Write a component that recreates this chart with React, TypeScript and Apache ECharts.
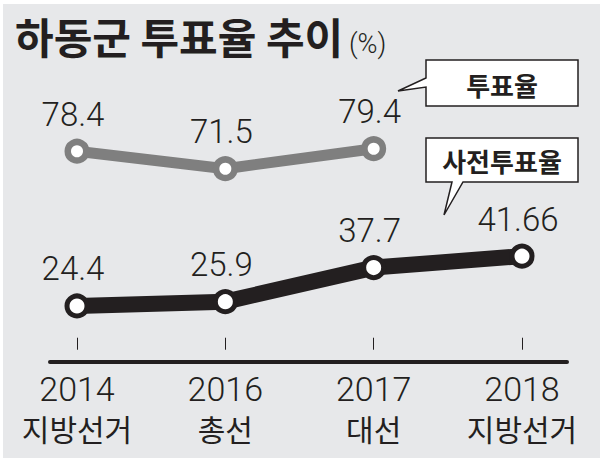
import React, { useEffect, useRef } from "react";
import * as echarts from "echarts";

// ---- data ----
const years = ["2014", "2016", "2017", "2018"];
const electionTypes = ["지방선거", "총선", "대선", "지방선거"];
const turnout: (number | null)[] = [78.4, 71.5, 79.4, null]; // 투표율
const earlyTurnout: number[] = [24.4, 25.9, 37.7, 41.66]; // 사전투표율
const titleText = "하동군 투표율 추이";
const unitText = "(%)";
const legendTurnout = "투표율";
const legendEarly = "사전투표율";

const DARK = "#231f20";
const GRAY = "#7f7f7f";
const BG = "#e7e8ea";

export default function App() {
  const ref = useRef<HTMLDivElement>(null);

  useEffect(() => {
    if (!ref.current) return;
    const chart = echarts.init(ref.current, undefined, { renderer: "svg" });

    const numLabel = {
      show: true,
      position: "top",
      distance: 8,
      offset: [-4, 0],
      fontFamily: "Roboto",
      fontWeight: 300,
      fontSize: 33,
      color: DARK,
    };

    chart.setOption({
      animation: false,
      backgroundColor: "#ffffff",
      title: {
        text: titleText,
        left: 15,
        top: 14,
        padding: 0,
        textStyle: {
          fontFamily: "Noto Sans CJK KR",
          fontWeight: "bold",
          fontSize: 42,
          color: DARK,
        },
      },
      grid: [
        { left: 77, right: 78, top: 100, bottom: 101 },
        { left: 50, right: 33, top: 100, bottom: 101 },
      ],
      xAxis: [
        {
          gridIndex: 0,
          type: "category",
          data: years,
          boundaryGap: false,
          axisLine: { show: false },
          axisTick: {
            show: true,
            inside: true,
            length: 12,
            lineStyle: { color: DARK, width: 1 },
          },
          axisLabel: {
            margin: 8,
            formatter: (v: string, i: number) => `{y|${v}}\n{k|${electionTypes[i]}}`,
            rich: {
              y: {
                fontFamily: "Roboto",
                fontWeight: 300,
                fontSize: 34,
                lineHeight: 38,
                color: DARK,
              },
              k: {
                fontFamily: "Noto Sans CJK KR",
                fontSize: 30,
                lineHeight: 40,
                color: DARK,
              },
            },
          },
          splitLine: { show: false },
        },
        {
          gridIndex: 1,
          type: "value",
          min: 0,
          max: 1,
          axisLine: { show: true, onZero: false, lineStyle: { color: DARK, width: 4 } },
          axisTick: { show: false },
          axisLabel: { show: false },
          splitLine: { show: false },
        },
      ],
      yAxis: [
        { gridIndex: 0, type: "value", min: -4.85, max: 98.63, show: false },
        { gridIndex: 0, type: "value", min: 5, max: 95.75, show: false },
        { gridIndex: 1, type: "value", show: false },
      ],
      graphic: [
        {
          type: "rect",
          z: -10,
          shape: { x: 3, y: 4, width: 597, height: 454 },
          style: { fill: BG },
          silent: true,
        },
        {
          type: "text",
          x: 349,
          y: 44,
          style: {
            text: unitText,
            fill: DARK,
            fontFamily: "Roboto",
            fontWeight: 300,
            fontSize: 27,
            textAlign: "left",
            textVerticalAlign: "middle",
            align: "left",
            verticalAlign: "middle",
          },
        },
        {
          type: "polygon",
          shape: {
            points: [
              [426, 60],
              [578, 60],
              [578, 106],
              [426, 106],
              [426, 87],
              [398, 91],
              [426, 78],
            ],
          },
          style: { fill: "#ffffff", stroke: DARK, lineWidth: 1.5 },
        },
        {
          type: "text",
          x: 502,
          y: 84,
          style: {
            text: legendTurnout,
            fill: DARK,
            fontFamily: "Noto Sans CJK KR",
            fontWeight: "bold",
            fontSize: 26,
            textAlign: "center",
            textVerticalAlign: "middle",
            align: "center",
            verticalAlign: "middle",
          },
        },
        {
          type: "polygon",
          shape: {
            points: [
              [426, 138],
              [578, 138],
              [578, 182],
              [463, 182],
              [444, 215],
              [452, 182],
              [426, 182],
            ],
          },
          style: { fill: "#ffffff", stroke: DARK, lineWidth: 1.5 },
        },
        {
          type: "text",
          x: 502,
          y: 160,
          style: {
            text: legendEarly,
            fill: DARK,
            fontFamily: "Noto Sans CJK KR",
            fontWeight: "bold",
            fontSize: 26,
            textAlign: "center",
            textVerticalAlign: "middle",
            align: "center",
            verticalAlign: "middle",
          },
        },
      ],
      series: [
        {
          name: legendTurnout,
          type: "line",
          xAxisIndex: 0,
          yAxisIndex: 0,
          data: turnout,
          symbol: "circle",
          symbolSize: 18.5,
          lineStyle: { color: GRAY, width: 11 },
          itemStyle: { color: "#ffffff", borderColor: GRAY, borderWidth: 6.5 },
          label: numLabel,
          emphasis: { disabled: true },
          z: 3,
        },
        {
          name: legendEarly,
          type: "line",
          xAxisIndex: 0,
          yAxisIndex: 1,
          data: earlyTurnout,
          symbol: "circle",
          symbolSize: 20,
          lineStyle: { color: DARK, width: 16 },
          itemStyle: { color: "#ffffff", borderColor: DARK, borderWidth: 5 },
          label: numLabel,
          emphasis: { disabled: true },
          z: 3,
        },
      ],
    });

    return () => chart.dispose();
  }, []);

  return (
    <div
      ref={ref}
      style={{ position: "fixed", left: 0, top: 0, width: 600, height: 463 }}
    />
  );
}
